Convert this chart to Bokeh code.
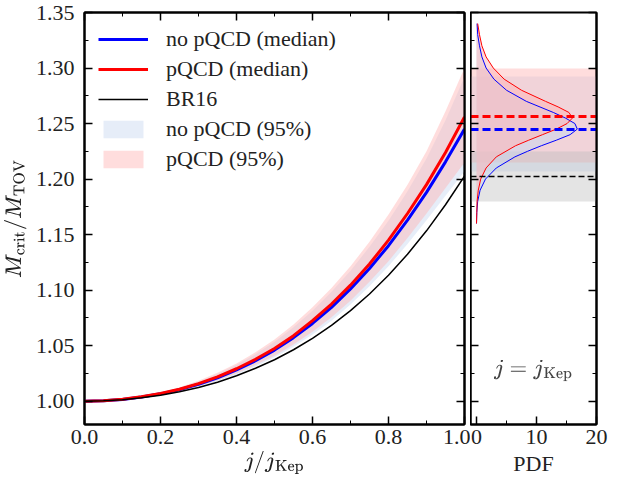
from bokeh.plotting import figure
from bokeh.layouts import row
from bokeh.models import Range1d, LinearAxis, FixedTicker, Label, PrintfTickFormatter, CustomJSTickFormatter
from bokeh.embed import file_html
from bokeh.resources import INLINE

FONT = "Liberation Serif"

# left panel: M_crit/M_TOV vs j/j_Kep
j = [0.0, 0.05, 0.1, 0.15, 0.2, 0.25, 0.3, 0.35, 0.4, 0.45, 0.5,
     0.55, 0.6, 0.65, 0.7, 0.75, 0.8, 0.85, 0.9, 0.95, 1.0]
br16 = [1.000, 1.0003, 1.0013, 1.0030, 1.0054, 1.0085, 1.0124, 1.0171, 1.0229, 1.0296, 1.0373,
        1.0463, 1.0566, 1.0682, 1.0815, 1.0965, 1.1134, 1.1323, 1.1534, 1.1769, 1.2027]
noqcd_med = [1.000, 1.0004, 1.0016, 1.0037, 1.0066, 1.0104, 1.0152, 1.0211, 1.0282, 1.0364, 1.0460,
             1.0572, 1.0700, 1.0845, 1.1010, 1.1195, 1.1400, 1.1630, 1.1880, 1.2155, 1.245]
qcd_med = [1.000, 1.0004, 1.0017, 1.0039, 1.0069, 1.0108, 1.0158, 1.0219, 1.0292, 1.0377, 1.0475,
           1.0590, 1.0725, 1.0875, 1.1045, 1.1235, 1.1450, 1.1690, 1.1950, 1.2240, 1.256]
qcd_hi = [1.000, 1.0005, 1.0019, 1.0044, 1.0080, 1.0126, 1.0185, 1.0256, 1.0340, 1.0440, 1.0555,
          1.0690, 1.0845, 1.1020, 1.1215, 1.1435, 1.1680, 1.1950, 1.2250, 1.2610, 1.300]
qcd_lo = [1.000, 1.0004, 1.0014, 1.0032, 1.0058, 1.0092, 1.0135, 1.0188, 1.0250, 1.0325, 1.0410,
          1.0510, 1.0625, 1.0755, 1.0905, 1.1075, 1.1260, 1.1470, 1.1690, 1.1920, 1.215]
noqcd_hi = [1.000, 1.0005, 1.0018, 1.0042, 1.0076, 1.0120, 1.0175, 1.0244, 1.0325, 1.0422, 1.0535,
            1.0665, 1.0815, 1.0985, 1.1175, 1.1390, 1.1625, 1.1890, 1.2185, 1.2530, 1.292]
noqcd_lo = [1.000, 1.0003, 1.0014, 1.0031, 1.0055, 1.0088, 1.0130, 1.0180, 1.0240, 1.0312, 1.0395,
            1.0490, 1.0600, 1.0725, 1.0870, 1.1035, 1.1215, 1.1415, 1.1630, 1.1850, 1.207]

# right panel: PDFs at j = j_Kep
red_y = [1.16, 1.17, 1.18, 1.19, 1.20, 1.21, 1.22, 1.23, 1.235, 1.24, 1.245, 1.25, 1.255, 1.26,
         1.265, 1.27, 1.28, 1.29, 1.30, 1.31, 1.32, 1.33, 1.34]
red_pdf = [0.0, 0.05, 0.1, 0.3, 0.7, 1.6, 3.3, 6.5, 8.7, 11.0, 13.3, 15.1, 16.0, 15.4,
           13.6, 11.5, 7.5, 4.6, 2.8, 1.6, 0.9, 0.5, 0.2]
blue_y = [1.16, 1.17, 1.18, 1.19, 1.20, 1.21, 1.22, 1.225, 1.23, 1.235, 1.24, 1.245, 1.25, 1.255,
          1.26, 1.27, 1.28, 1.29, 1.30, 1.31, 1.32, 1.33, 1.34]
blue_pdf = [0.0, 0.05, 0.2, 0.6, 1.5, 3.3, 6.4, 8.5, 10.8, 13.3, 15.6, 16.8, 16.4, 14.8,
            12.8, 8.3, 5.0, 2.9, 1.6, 0.9, 0.5, 0.2, 0.1]
br16_band = [1.18, 1.225]

BLUE_FILL = "#c8d7f0"
PINK_FILL = "#ffb4b4"


def style(p, xticks, xminor):
    for ax in list(p.xaxis) + list(p.yaxis):
        ax.major_tick_in = 8
        ax.major_tick_out = 0
        ax.minor_tick_in = 4
        ax.minor_tick_out = 0
        ax.axis_line_width = 2
        ax.major_tick_line_width = 1.5
        ax.major_label_text_font = FONT
        ax.major_label_text_font_size = "22px"
        ax.major_label_text_color = "#222222"
        ax.axis_label_text_font = FONT
        ax.axis_label_text_font_size = "22px"
        ax.axis_label_text_color = "#222222"
        ax.axis_label_text_font_style = "normal"
        ax.axis_label_standoff = 4
    for ax in p.xaxis:
        ax.ticker = FixedTicker(ticks=xticks, minor_ticks=xminor)
    p.grid.visible = False
    p.outline_line_color = "black"
    p.outline_line_width = 2


def blank(ax):
    ax.formatter = CustomJSTickFormatter(code="return ''")
    ax.major_label_text_font_size = "1px"
    ax.major_label_standoff = 0


yr = Range1d(0.979, 1.35)
yticks = [1.00, 1.05, 1.10, 1.15, 1.20, 1.25, 1.30, 1.35]
yminor = [0.975 + 0.025 * i for i in range(16)]

p = figure(frame_width=380, frame_height=412, x_range=Range1d(0, 1), y_range=yr,
           output_backend="svg", toolbar_location=None,
           x_axis_label=r"$$j/j_\mathrm{Kep}$$", y_axis_label=r"$$M_\mathrm{crit}/M_\mathrm{TOV}$$",
           min_border_left=0, min_border_right=6, min_border_top=12, min_border_bottom=0)
p.add_layout(LinearAxis(), "right")
p.add_layout(LinearAxis(), "above")
p.line(j, noqcd_med, color="blue", line_width=3, legend_label="no pQCD (median)")
p.line(j, qcd_med, color="red", line_width=3, legend_label="pQCD (median)")
p.line(j, br16, color="black", line_width=1.5, legend_label="BR16")
p.varea(x=j, y1=noqcd_lo, y2=noqcd_hi, fill_color=BLUE_FILL, fill_alpha=0.45,
        legend_label="no pQCD (95%)", level="underlay")
p.varea(x=j, y1=qcd_lo, y2=qcd_hi, fill_color=PINK_FILL, fill_alpha=0.45,
        legend_label="pQCD (95%)", level="underlay")
style(p, [0, 0.2, 0.4, 0.6, 0.8, 1.0], [0.1, 0.3, 0.5, 0.7, 0.9])
for ax in p.yaxis:
    ax.ticker = FixedTicker(ticks=yticks, minor_ticks=yminor)
p.below[0].formatter = PrintfTickFormatter(format="%.1f")
p.left[0].formatter = PrintfTickFormatter(format="%.2f")
p.left[0].major_label_standoff = 10
blank(p.right[0])
blank(p.above[0])
p.legend.location = "top_left"
p.legend.border_line_color = None
p.legend.background_fill_alpha = 0
p.legend.label_text_font = FONT
p.legend.label_text_font_size = "22px"
p.legend.label_text_color = "#222222"
p.legend.glyph_width = 50
p.legend.glyph_height = 22
p.legend.label_standoff = 18
p.legend.spacing = 4
p.legend.margin = 14

q = figure(frame_width=126, frame_height=412, x_range=Range1d(-1, 20), y_range=yr,
           output_backend="svg", toolbar_location=None, x_axis_label="PDF",
           min_border_left=0, min_border_right=14, min_border_top=12, min_border_bottom=0)
q.add_layout(LinearAxis(), "right")
q.hstrip(y0=[noqcd_lo[-1]], y1=[noqcd_hi[-1]], fill_color=BLUE_FILL, fill_alpha=0.45, line_color=None)
q.hstrip(y0=[qcd_lo[-1]], y1=[qcd_hi[-1]], fill_color=PINK_FILL, fill_alpha=0.45, line_color=None)
q.hstrip(y0=[br16_band[0]], y1=[br16_band[1]], fill_color="#bbbbbb", fill_alpha=0.4, line_color=None)
q.harea(y=blue_y, x1=0, x2=blue_pdf, fill_color=BLUE_FILL, fill_alpha=0.5)
q.harea(y=red_y, x1=0, x2=red_pdf, fill_color=PINK_FILL, fill_alpha=0.5)
q.line(blue_pdf, blue_y, color="blue", line_width=1)
q.line(red_pdf, red_y, color="red", line_width=1)
q.hspan(y=[qcd_med[-1]], line_color="red", line_width=3, line_dash="8 4")
q.hspan(y=[noqcd_med[-1]], line_color="blue", line_width=3, line_dash="8 4")
q.hspan(y=[br16[-1]], line_color="black", line_width=1.5, line_dash="6 3")
style(q, [0, 10, 20], [5, 15])
for ax in q.yaxis:
    ax.ticker = FixedTicker(ticks=yticks, minor_ticks=yminor)
    blank(ax)
blank(q.above[0]) if q.above else None
q.add_layout(Label(x=9.5, y=1.018, text=r"$$j = j_\mathrm{Kep}$$",
                   text_font_size="18px", text_align="center"))

out = row(p, q, spacing=0)
open("out.html", "w").write(file_html(out, INLINE))
